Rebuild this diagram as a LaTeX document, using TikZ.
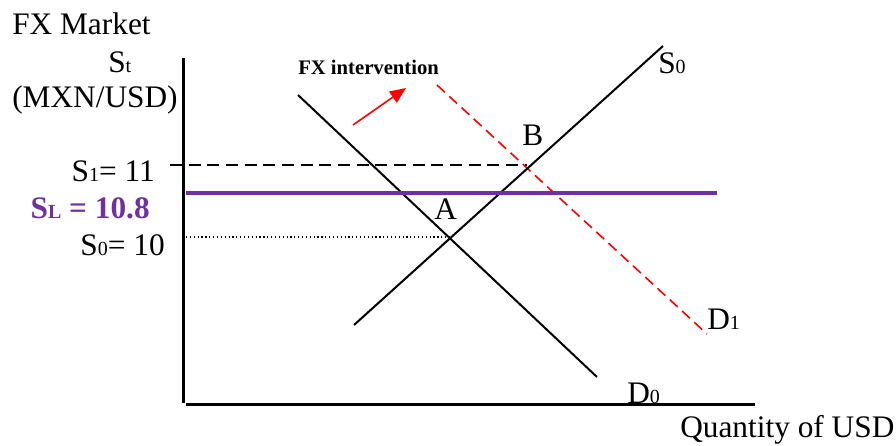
\documentclass[tikz,border=0pt]{standalone}
\usepackage{fontspec}
\setmainfont{Liberation Serif}
\usetikzlibrary{arrows.meta}
\definecolor{capline}{HTML}{7030A0}
\definecolor{shiftred}{HTML}{FF0000}
\newcommand{\smallsub}[1]{{\fontsize{15}{15}\selectfont #1}}

\begin{document}
\begin{tikzpicture}[x=0.75pt,y=-0.75pt,font=\fontsize{23.5}{27}\selectfont,
  txt/.style={inner sep=0pt,anchor=base west},
  txtr/.style={inner sep=0pt,anchor=base east},
  axisline/.style={line width=2pt},
  curve/.style={line width=1.5pt}]
\useasboundingbox (0,0) rectangle (896,446);

% axes
\coordinate (ytop) at (183.5,58);
\coordinate (ybot) at (183.5,403);
\coordinate (xleft) at (186,404.7);
\coordinate (xright) at (755,404.7);
\draw[axisline] (ytop) -- (ybot);
\draw[axisline] (xleft) -- (xright);

% demand and supply
\coordinate (dzeroa) at (298,95);   \coordinate (dzerob) at (597,377);
\coordinate (szeroa) at (354,325);  \coordinate (szerob) at (663,46);
\coordinate (doneA) at (437,85);    \coordinate (doneB) at (707,334);
\coordinate (ptA) at (450,237);
\coordinate (ptB) at (527,165);
\coordinate (sone) at (170,165);
\coordinate (szero) at (186,237);
\coordinate (capL) at (186,193);
\coordinate (capR) at (717,193);

\draw[shiftred,line width=1.2pt,dash pattern=on 8pt off 4.5pt] (doneA) -- (doneB);
\draw[line width=1.1pt,dash pattern=on 9pt off 5pt] (sone) -- (ptB);
\draw[line width=0.9pt,dotted] (szero) -- (ptA);
\draw[curve] (dzeroa) -- (dzerob);
\draw[curve] (szeroa) -- (szerob);
\draw[capline,line width=3pt] (capL) -- (capR);

% intervention arrow
\coordinate (arrfrom) at (353,125);
\coordinate (arrto) at (406,88);
\draw[shiftred,line width=1.2pt,-{Triangle[length=12pt,width=10pt]}] (arrfrom) -- (arrto);

% labels
\node[txt] (title) at (12,34.5) {FX Market};
\node[txt] (ylab) at (108,72) {S\smallsub{t}};
\node[txt] (yunit) at (12,107) {(MXN/USD)};
\node[txtr] (lblone) at (155,181.5) {S\smallsub{1}= 11};
\node[txtr,capline,font=\fontsize{23.5}{27}\selectfont\bfseries] (lbllim) at (150,218) {S\smallsub{L} = 10.8};
\node[txtr] (lblzero) at (165,255) {S\smallsub{0}= 10};
\node[txt,font=\fontsize{15.5}{18}\selectfont\bfseries] (intv) at (298,74) {FX intervention};
\node[txt] (lblB) at (522,145) {B};
\node[txt] (lblA) at (434,219) {A};
\node[txt] (lblS) at (658,73) {S\smallsub{0}};
\node[txt] (lblDone) at (707,329) {D\smallsub{1}};
\node[txt] (lblDzero) at (627,403) {D\smallsub{0}};
\node[txt] (xlab) at (680,437) {Quantity of USD};
\end{tikzpicture}
\end{document}
